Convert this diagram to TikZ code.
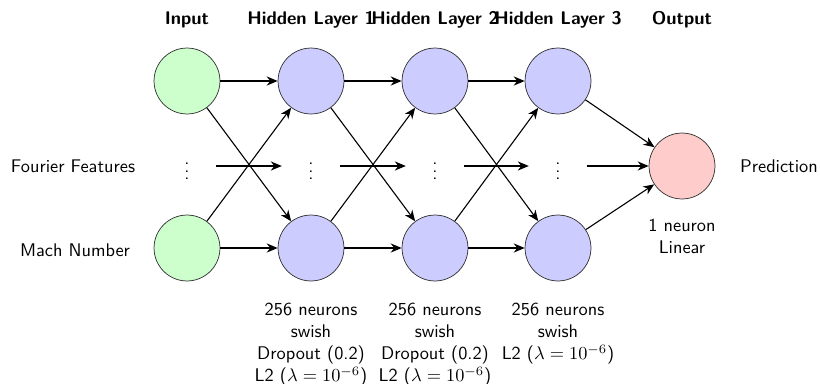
\documentclass[tikz,border=0pt]{standalone}
\usetikzlibrary{arrows.meta}
\begin{document}
\begin{tikzpicture}[x=0.546pt,y=-0.546pt,font=\sffamily,
  neuron/.style={circle,draw=black!80,minimum size=36pt,inner sep=0pt},
  inp/.style={neuron,fill=green!20},
  hid/.style={neuron,fill=blue!20},
  outn/.style={neuron,fill=red!20},
  dotn/.style={circle,minimum size=31.5pt,inner sep=0pt},
  conn/.style={-{Stealth[length=6pt,width=5pt]},semithick},
  head/.style={font=\sffamily\bfseries},
  note/.style={align=center,anchor=north}]
\useasboundingbox (0,0) rectangle (820,383);
% nodes
\node[inp] (i1) at (187,81) {};
\node[dotn] (i2) at (187,166) {$\vdots$};
\node[inp] (i3) at (187,248) {};
\foreach \n/\x in {1/311,2/435,3/558}{
  \node[hid] (h\n a) at (\x,81) {};
  \node[dotn] (h\n b) at (\x,166) {$\vdots$};
  \node[hid] (h\n c) at (\x,248) {};
}
\node[outn] (o) at (682,166) {};
% headers
\node[head] (t0) at (187,20) {Input};
\node[head] (t1) at (311,20) {Hidden Layer 1};
\node[head] (t2) at (435,20) {Hidden Layer 2};
\node[head] (t3) at (558,20) {Hidden Layer 3};
\node[head] (t4) at (682,20) {Output};
% side labels
\node (lf) at (73,166) {Fourier Features};
\node (lm) at (75,250) {Mach Number};
\node (lp) at (779,166) {Prediction};
% notes
\node[note] (n1) at (311,297) {256 neurons\\swish\\Dropout (0.2)\\L2 ($\lambda=10^{-6}$)};
\node[note] (n2) at (435,297) {256 neurons\\swish\\Dropout (0.2)\\L2 ($\lambda=10^{-6}$)};
\node[note] (n3) at (558,297) {256 neurons\\swish\\L2 ($\lambda=10^{-6}$)};
\node[note] (n4) at (682,213) {1 neuron\\Linear};
% connections
\draw[conn] (i1) -- (h1a);
\draw[conn] (i1) -- (h1c);
\draw[conn] (i3) -- (h1a);
\draw[conn] (i3) -- (h1c);
\draw[conn] (i2) -- (h1b);
\foreach \p/\q in {1/2,2/3}{
  \draw[conn] (h\p a) -- (h\q a);
  \draw[conn] (h\p a) -- (h\q c);
  \draw[conn] (h\p c) -- (h\q a);
  \draw[conn] (h\p c) -- (h\q c);
  \draw[conn] (h\p b) -- (h\q b);
}
\draw[conn] (h3a) -- (o);
\draw[conn] (h3b) -- (o);
\draw[conn] (h3c) -- (o);
\end{tikzpicture}
\end{document}
